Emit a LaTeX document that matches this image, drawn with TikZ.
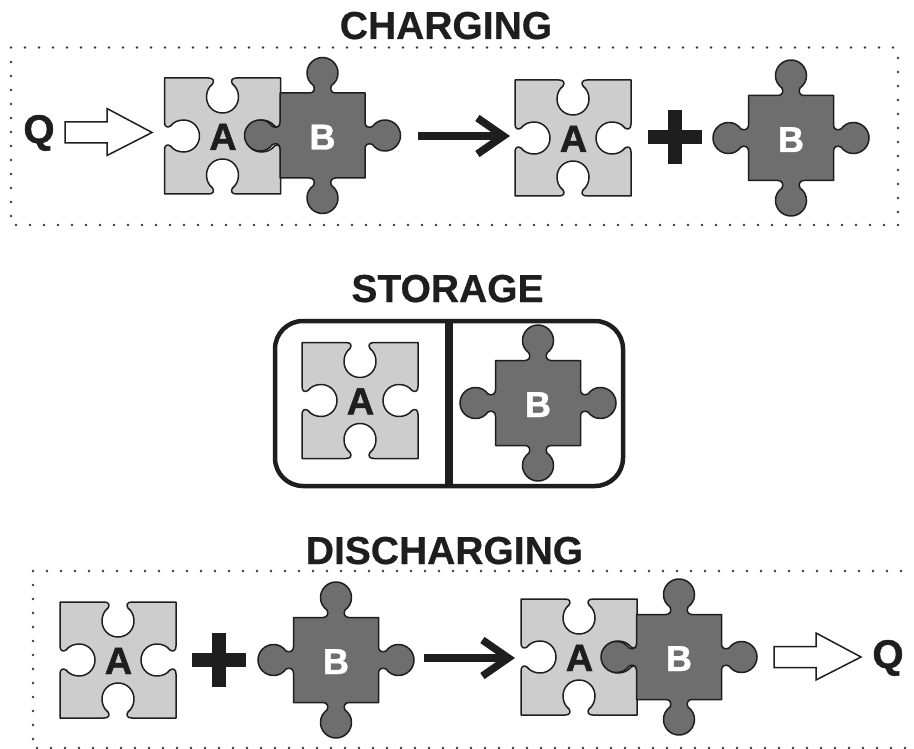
\documentclass[tikz,border=0pt]{standalone}
\usepackage{fontspec}
\setmainfont{Liberation Sans}
\newfontfamily\heavyfont[FakeBold=1.2]{Liberation Sans Bold}
\newfontfamily\titlefont[FakeBold=0.5]{Liberation Sans Bold}
\usetikzlibrary{arrows.meta}
\definecolor{inkc}{HTML}{1E1E1E}
\definecolor{lightp}{HTML}{CDCDCD}
\definecolor{darkp}{HTML}{6E6E6E}
\definecolor{dotc}{HTML}{3A3A3A}
\tikzset{
  piece/.style={draw=inkc,line width=1.5pt,line join=round},
  lettera/.style={anchor=base,inner sep=0pt,text=inkc,font=\heavyfont\fontsize{38}{38}\selectfont},
  letterb/.style={anchor=base,inner sep=0pt,text=white,font=\heavyfont\fontsize{36}{36}\selectfont},
  title/.style={anchor=base,inner sep=0pt,text=inkc,font=\titlefont\fontsize{39}{39}\selectfont},
  qlabel/.style={anchor=base,inner sep=0pt,text=inkc,font=\heavyfont\fontsize{40}{40}\selectfont},
  dots/.style={draw=dotc,line width=2.6pt,line cap=round,dash pattern=on 0pt off 14pt},
  heat/.style={draw=inkc,fill=white,line width=1.5pt,line join=miter},
  react/.style={draw=inkc,line width=7.5pt,-{Straight Barb[length=26pt,width=36pt,line width=7.5pt]}},
  plusbar/.style={fill=inkc,draw=none},
  pieceA/.pic={
    \path[piece,fill=lightp] (-58,-58)
      \foreach \a in {0,-90,-180,-270}{
        -- ([rotate=\a]-58,-58) -- ([rotate=\a]-14,-58)
        .. controls ([rotate=\a]-9,-58) and ([rotate=\a]-8,-55) .. ([rotate=\a]-10,-52)
        .. controls ([rotate=\a]-14,-49) and ([rotate=\a]-16,-44) .. ([rotate=\a]-16,-39)
        .. controls ([rotate=\a]-16,-30) and ([rotate=\a]-9,-23) .. ([rotate=\a]0,-23)
        .. controls ([rotate=\a]9,-23) and ([rotate=\a]16,-30) .. ([rotate=\a]16,-39)
        .. controls ([rotate=\a]16,-44) and ([rotate=\a]14,-49) .. ([rotate=\a]10,-52)
        .. controls ([rotate=\a]8,-55) and ([rotate=\a]9,-58) .. ([rotate=\a]14,-58)
      } -- cycle;
  },
  pieceAlabel/.pic={\node[lettera] (-label) at (0.5,14) {A};},
  pieceB/.pic={
    \path[piece,fill=darkp] (-42.5,-42.5)
      \foreach \a in {0,-90,-180,-270}{
        -- ([rotate=\a]-42.5,-42.5) -- ([rotate=\a]-13,-42.5)
        .. controls ([rotate=\a]-9,-42.5) and ([rotate=\a]-7,-46) .. ([rotate=\a]-9,-50)
        .. controls ([rotate=\a]-13,-53) and ([rotate=\a]-15.5,-57) .. ([rotate=\a]-15.5,-62.5)
        .. controls ([rotate=\a]-15.5,-71) and ([rotate=\a]-8.5,-78) .. ([rotate=\a]0,-78)
        .. controls ([rotate=\a]8.5,-78) and ([rotate=\a]15.5,-71) .. ([rotate=\a]15.5,-62.5)
        .. controls ([rotate=\a]15.5,-57) and ([rotate=\a]13,-53) .. ([rotate=\a]9,-50)
        .. controls ([rotate=\a]7,-46) and ([rotate=\a]9,-42.5) .. ([rotate=\a]13,-42.5)
      } -- cycle;
    \node[letterb] (-label) at (0,14) {B};
  },
  plussign/.pic={
    \fill[plusbar] (-27,-7) rectangle (27,7);
    \fill[plusbar] (-7,-27) rectangle (7,27);
  },
  heatarrow/.pic={
    \path[heat] (0,-10.5) -- (42,-10.5) -- (42,-24) -- (87,0) -- (42,23) -- (42,10.5) -- (0,10.5) -- cycle;
  }
}
\begin{document}
\begin{tikzpicture}[x=1pt,y=-1pt]
\useasboundingbox[fill=white] (0,0) rectangle (914,749);

% Charging
\node[title] (tcharge) at (446,39) {CHARGING};
\draw[dots] (11,47.5) -- (899,47.5);
\draw[dots] (11,62) -- (11,218);
\draw[dots] (898,58) -- (898,214);
\draw[dots] (16,225) -- (899,225);
\node[qlabel] (q1) at (39,143) {Q};
\pic at (65,132.5) {heatarrow};
\pic (c1a) at (222.5,136) {pieceA};
\pic (c1b) at (322.5,135.5) {pieceB};
\pic (c1al) at (222.5,136) {pieceAlabel};
\coordinate (c1s) at (418,136);
\coordinate (c1e) at (510,136);
\draw[react] (c1s) -- (c1e);
\pic (c2a) at (573,138) {pieceA};
\pic (c2al) at (573,138) {pieceAlabel};
\pic at (674.5,137.5) {plussign};
\pic (c2b) at (791,138) {pieceB};

% Storage
\node[title] (tstore) at (447.5,302) {STORAGE};
\node[draw=inkc,line width=4.5pt,rounded corners=28pt,minimum width=348pt,minimum height=165pt,inner sep=0pt] (frame) at (449,403.5) {};
\draw[draw=inkc,line width=8pt] (frame.north) -- (frame.south);
\pic (s1) at (360,400.5) {pieceA};
\pic (s1l) at (360,400.5) {pieceAlabel};
\pic (s2) at (538,403) {pieceB};

% Discharging
\node[title] (tdis) at (444.5,564) {DISCHARGING};
\draw[dots] (33,571) -- (914,571);
\draw[dots] (33,585) -- (33,741);
\draw[dots] (37,748) -- (914,748);
\pic (d1a) at (118,660) {pieceA};
\pic (d1al) at (118,660) {pieceAlabel};
\pic at (219,659.5) {plussign};
\pic (d1b) at (336,660) {pieceB};
\coordinate (d1s) at (424,658);
\coordinate (d1e) at (515,658);
\draw[react] (d1s) -- (d1e);
\pic (d2a) at (579,657) {pieceA};
\pic (d2b) at (679,657) {pieceB};
\pic (d2al) at (579,657) {pieceAlabel};
\pic at (774,657) {heatarrow};
\node[qlabel] (q2) at (888,668) {Q};
\end{tikzpicture}
\end{document}
